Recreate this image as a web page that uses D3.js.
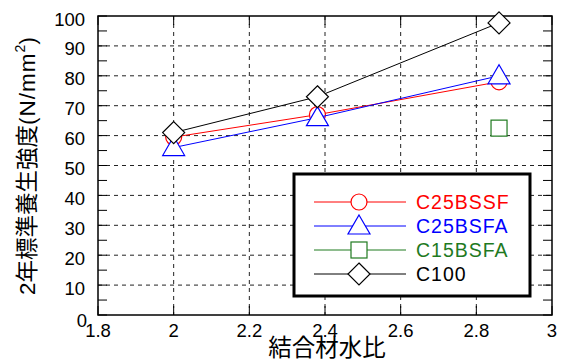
<!DOCTYPE html>
<html>
<head>
<meta charset="utf-8">
<script src="https://cdn.jsdelivr.net/npm/d3@7"></script>
<style>
  html, body { margin: 0; padding: 0; background: #fff; }
  svg { display: block; }
  text { font-family: "Liberation Sans", Arial, "Noto Sans CJK JP", sans-serif; }
</style>
</head>
<body>
<svg id="chart" width="564" height="360"></svg>
<script>
// Binder-water ratio (x) and 2-year standard-cured strength (y)
const ratios = [2.0, 2.38, 2.86];
const seriesNames = ["C25BSSF", "C25BSFA", "C15BSFA", "C100"];
const c25bssf = [59.5, 67, 78];
const c25bsfa = [56, 66, 80];
const c15bsfa = [null, null, 62.5];
const c100 = [61, 73, 97.7];
const xTicks = [1.8, 2, 2.2, 2.4, 2.6, 2.8, 3];
const yTicks = [0, 10, 20, 30, 40, 50, 60, 70, 80, 90, 100];

const styles = {
  C25BSSF: { color: "#ff0000", symbol: "circle", values: c25bssf },
  C25BSFA: { color: "#0000ff", symbol: "triangle", values: c25bsfa },
  C15BSFA: { color: "#1f7a1f", symbol: "square", values: c15bsfa },
  C100:    { color: "#000000", symbol: "diamond", values: c100 }
};

const svg = d3.select("#chart");
const plotL = 98, plotR = 552, plotT = 16, plotB = 315;

const x = d3.scaleLinear().domain([1.8, 3]).range([plotL, plotR]);
const y = d3.scaleLinear().domain([0, 100]).range([plotB, plotT]);

// dashed grid
const grid = svg.append("g").attr("stroke", "#222").attr("stroke-width", 1).attr("stroke-dasharray", "4,4");
grid.selectAll(".gx").data(xTicks.slice(1, -1)).join("line")
  .attr("x1", d => x(d)).attr("x2", d => x(d)).attr("y1", plotT).attr("y2", plotB);
grid.selectAll(".gy").data(yTicks.slice(1, -1)).join("line")
  .attr("y1", d => y(d)).attr("y2", d => y(d)).attr("x1", plotL).attr("x2", plotR);

// inward ticks on all four sides
const tickLen = 9;
const yMinor = d3.range(0, 101, 5);
const axisG = svg.append("g").attr("stroke", "#000").attr("stroke-width", 1);
axisG.selectAll(".tl").data(yMinor).join("line")
  .attr("x1", plotL).attr("x2", plotL + tickLen).attr("y1", d => y(d)).attr("y2", d => y(d));
axisG.selectAll(".tr").data(yMinor).join("line")
  .attr("x1", plotR).attr("x2", plotR - tickLen).attr("y1", d => y(d)).attr("y2", d => y(d));
axisG.selectAll(".tb").data(xTicks).join("line")
  .attr("x1", d => x(d)).attr("x2", d => x(d)).attr("y1", plotB).attr("y2", plotB - tickLen);
axisG.selectAll(".tt").data(xTicks).join("line")
  .attr("x1", d => x(d)).attr("x2", d => x(d)).attr("y1", plotT).attr("y2", plotT + tickLen);

svg.append("rect").attr("x", plotL).attr("y", plotT).attr("width", plotR - plotL).attr("height", plotB - plotT)
  .attr("fill", "none").attr("stroke", "#000").attr("stroke-width", 1.5);

// tick labels
svg.append("g").selectAll("text").data(yTicks).join("text")
  .attr("x", d => d === 0 ? 87 : 85).attr("y", d => y(d) + 3 + (d === 0 ? 2 : 0))
  .attr("text-anchor", "end").attr("dominant-baseline", "central")
  .attr("font-size", 18.5).text(d => d);
svg.append("g").selectAll("text").data(xTicks).join("text")
  .attr("x", d => x(d)).attr("y", 337)
  .attr("text-anchor", "middle").attr("font-size", 18.5).text(d => d3.format("")(d));

// axis titles
svg.append("text").attr("x", 327).attr("y", 356).attr("text-anchor", "middle")
  .attr("font-size", 23.5).attr("font-family", "Noto Sans CJK JP").text("結合材水比");
const yt = svg.append("text").attr("transform", "translate(35,166) rotate(-90)")
  .attr("text-anchor", "middle").attr("font-size", 22.5);
yt.append("tspan").text("2年標準養生強度");
yt.append("tspan").attr("letter-spacing", 1).text("(N/mm");
yt.append("tspan").attr("font-size", 14).attr("dy", -10).text("2");
yt.append("tspan").attr("dy", 10).text(")");

// markers
function marker(sel, symbol, color) {
  if (symbol === "circle") {
    sel.append("circle").attr("r", 8);
  } else if (symbol === "triangle") {
    sel.append("path").attr("d", "M0,-11L11,8L-11,8Z");
  } else if (symbol === "square") {
    sel.append("rect").attr("x", -8).attr("y", -8).attr("width", 16).attr("height", 16);
  } else {
    sel.append("path").attr("d", "M0,-11L11,0L0,11L-11,0Z");
  }
  sel.selectAll("*").attr("fill", "#fff").attr("stroke", color).attr("stroke-width", 1.2);
}

const line = d3.line().defined(d => d[1] != null).x(d => x(d[0])).y(d => y(d[1]));
seriesNames.forEach(name => {
  const s = styles[name];
  const pts = ratios.map((r, i) => [r, s.values[i]]);
  svg.append("path").datum(pts).attr("d", line).attr("fill", "none")
    .attr("stroke", s.color).attr("stroke-width", 1);
  pts.filter(p => p[1] != null).forEach(p => {
    const g = svg.append("g").attr("transform", `translate(${x(p[0])},${y(p[1])})`);
    marker(g, s.symbol, s.color);
  });
});

// legend
const lg = svg.append("g");
lg.append("rect").attr("x", 294).attr("y", 174).attr("width", 236).attr("height", 122)
  .attr("fill", "#fff").attr("stroke", "#000").attr("stroke-width", 3);
seriesNames.forEach((name, i) => {
  const s = styles[name];
  const ly = 202 + i * 24;
  lg.append("line").attr("x1", 314).attr("x2", 406).attr("y1", ly).attr("y2", ly)
    .attr("stroke", s.color).attr("stroke-width", 1);
  const g = lg.append("g").attr("transform", `translate(359,${ly})`);
  marker(g, s.symbol, s.color);
  lg.append("text").attr("x", 416).attr("y", ly).attr("dominant-baseline", "central")
    .attr("font-size", 19.5).attr("letter-spacing", 1).attr("fill", s.color).text(name);
});
</script>
</body>
</html>
